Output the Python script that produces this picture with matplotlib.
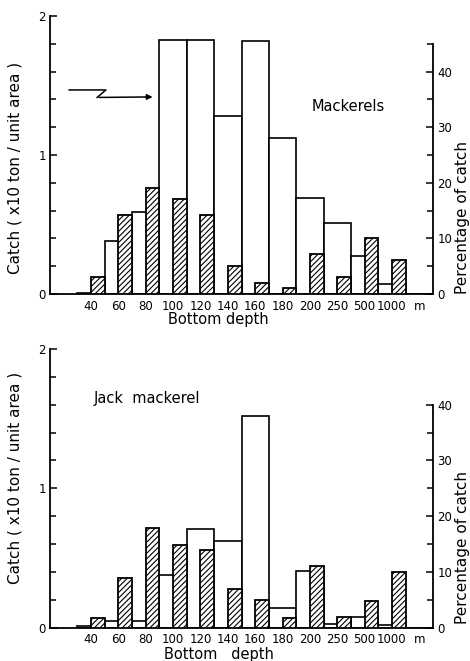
import numpy as np
import matplotlib.pyplot as plt

# =========================
# Data
# =========================

depths = ["40", "60", "80", "100", "120", "140", "160", "180", "200", "250", "500", "1000", "m"]

# Mackerels: catch (x10 ton / unit area) and percentage of catch
mack_catch = [0.01, 0.38, 0.59, 1.83, 1.83, 1.28, 1.82, 1.12, 0.69, 0.51, 0.27, 0.07, 0.0]
mack_pct = [3.1, 14.2, 19.0, 17.1, 14.2, 5.1, 2.0, 1.0, 7.2, 3.0, 10.1, 6.1, 0.0]

# Jack mackerel
jack_catch = [0.01, 0.05, 0.05, 0.38, 0.71, 0.62, 1.52, 0.14, 0.41, 0.03, 0.08, 0.02, 0.0]
jack_pct = [1.8, 9.0, 17.9, 14.9, 14.0, 6.9, 4.9, 1.8, 11.0, 1.9, 4.8, 10.0, 0.0]

plt.rcParams["font.family"] = "DejaVu Sans"
plt.rcParams["hatch.linewidth"] = 0.8

fig = plt.figure(figsize=(4.70, 6.61), dpi=100)

x = np.arange(len(depths))


def panel(rect, catch, pct, pct_top, name, name_xy, xlabel, xlabel_y, ylab_y, rlab_y):
    ax = fig.add_axes(rect)
    ax2 = ax.twinx()

    # white bars: full bin, hatched bars: right half of each bin
    ax.bar(x + 0.5, catch, width=1.0, facecolor="white", edgecolor="black",
           linewidth=1.2, zorder=2)
    ax2.bar(x + 0.75, pct, width=0.5, facecolor="white", edgecolor="black",
            hatch="//////", linewidth=1.3, zorder=3)

    ax.set_xlim(-1, 13)
    ax.set_ylim(0, 2)
    ax2.set_ylim(0, 50)

    for a in (ax, ax2):
        a.spines["top"].set_visible(False)
        for s in a.spines.values():
            s.set_linewidth(1.3)
    ax.spines["right"].set_visible(False)
    ax2.spines["left"].set_visible(False)
    ax2.spines["bottom"].set_visible(False)
    ax2.spines["right"].set_bounds(0, pct_top)

    ax.set_xticks(x + 0.5)
    ax.set_xticklabels(depths, fontsize=8.5)
    ax.tick_params(axis="x", length=0, pad=4)

    ax.set_yticks([0, 1, 2])
    ax.set_yticklabels(["0", "1", "2"], fontsize=8.5)
    ax.set_yticks(np.arange(0, 2.01, 0.2), minor=True)
    ax.tick_params(axis="y", which="both", direction="in", pad=3, width=1.1)
    ax.tick_params(axis="y", which="major", length=5)
    ax.tick_params(axis="y", which="minor", length=4)

    ax2.set_yticks(np.arange(0, pct_top + 1, 10))
    ax2.set_yticklabels([str(v) for v in range(0, pct_top + 1, 10)], fontsize=8.5)
    ax2.set_yticks(np.arange(0, pct_top + 1, 5), minor=True)
    ax2.tick_params(axis="y", which="both", direction="in", pad=3, width=1.1)
    ax2.tick_params(axis="y", which="major", length=5)
    ax2.tick_params(axis="y", which="minor", length=4)

    ax.text(-0.091, ylab_y, "Catch ( x10 ton / unit area )", transform=ax.transAxes,
            rotation=90, ha="center", va="center", fontsize=11)
    ax.text(1.078, rlab_y, "Percentage of catch", transform=ax.transAxes,
            rotation=90, ha="center", va="center", fontsize=11)
    ax.text(0.44, xlabel_y, xlabel, transform=ax.transAxes,
            ha="center", va="center", fontsize=10.5)
    ax.text(name_xy[0], name_xy[1], name, transform=ax.transAxes,
            ha="center", va="center", fontsize=10.5)
    return ax


ax_top = panel([0.1064, 0.5552, 0.8149, 0.4206], mack_catch, mack_pct, 45,
               "Mackerels", (0.778, 0.676), "Bottom depth", -0.09, 0.453, 0.277)

# zigzag arrow pointing to the 100 m bin
ax_top.plot([0.05, 0.146, 0.123], [0.734, 0.734, 0.707], color="black",
            linewidth=1.1, transform=ax_top.transAxes, clip_on=False)
ax_top.annotate("", xy=(0.275, 0.709), xytext=(0.121, 0.707),
                xycoords="axes fraction",
                arrowprops=dict(arrowstyle="-|>", color="black", lw=1.1,
                                mutation_scale=8))

ax_bot = panel([0.1064, 0.0504, 0.8149, 0.4216], jack_catch, jack_pct, 40,
               "Jack  mackerel", (0.253, 0.824), "Bottom   depth", -0.098, 0.537, 0.286)

fig.savefig("out.png", dpi=100)
